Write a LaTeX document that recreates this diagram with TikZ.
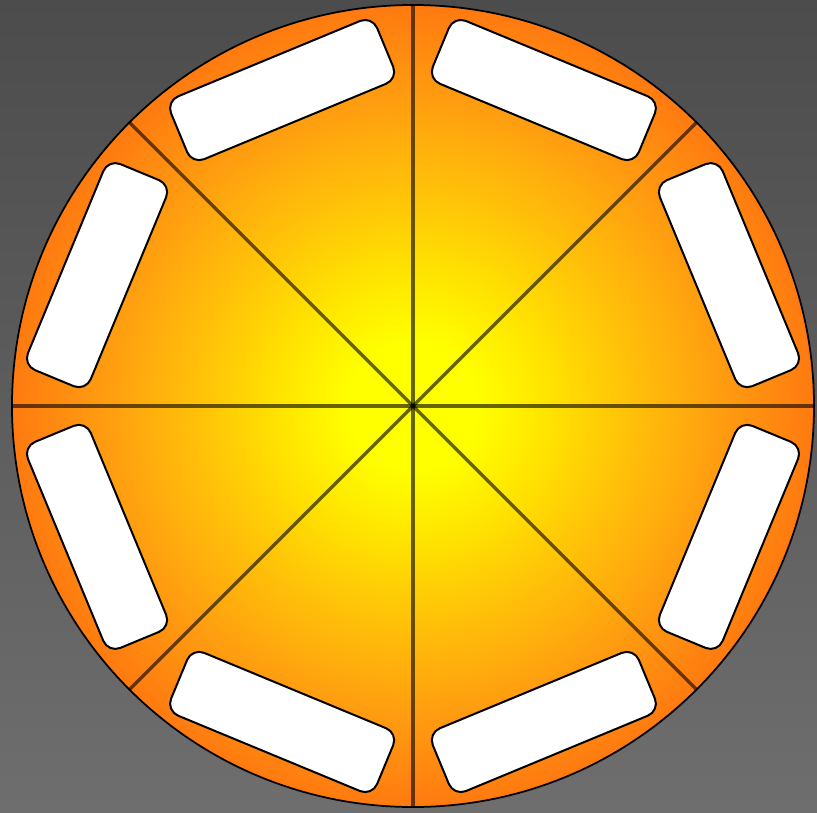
\documentclass[tikz,border=0pt]{standalone}
\usetikzlibrary{positioning}
\definecolor{fondoA}{RGB}{76,76,76}
\definecolor{fondoB}{RGB}{110,110,110}
\definecolor{amarillo}{RGB}{255,255,0}
\definecolor{amarillo2}{RGB}{255,230,0}
\definecolor{naranja1}{RGB}{255,196,8}
\definecolor{naranja2}{RGB}{255,158,16}
\definecolor{naranja3}{RGB}{255,122,16}
\pgfdeclareradialshading{sol}{\pgfpointorigin}{%
  color(0bp)=(amarillo); color(4bp)=(amarillo); color(8bp)=(amarillo2);
  color(13bp)=(naranja1); color(19bp)=(naranja2); color(25bp)=(naranja3);
  color(50bp)=(naranja3)}
\begin{document}
\begin{tikzpicture}[
    x=0.2mm, y=0.2mm,
    disco/.style={circle, draw=black, line width=0.35mm, minimum size=160.4mm, inner sep=0pt, shading=sol},
    ranura/.style={draw=black, line width=0.4mm, fill=white, rounded corners=2.6mm, minimum width=44.6mm, minimum height=13.6mm, inner sep=0pt},
    rayo/.style={draw=black, draw opacity=0.6, line width=0.65mm}
]
\shade[top color=fondoA, bottom color=fondoB] (-413,-406) rectangle (404,406);
\useasboundingbox (-413,-406) rectangle (404,406);

\node[disco] (d) at (0,0) {};
\coordinate (c) at (0,0);

\node[ranura, rotate=-67.5] (r1) at (22.5:342) {};
\node[ranura, rotate=-22.5] (r2) at (67.5:342) {};
\node[ranura, rotate=22.5] (r3) at (112.5:342) {};
\node[ranura, rotate=67.5] (r4) at (157.5:342) {};
\node[ranura, rotate=112.5] (r5) at (202.5:342) {};
\node[ranura, rotate=157.5] (r6) at (247.5:342) {};
\node[ranura, rotate=202.5] (r7) at (292.5:342) {};
\node[ranura, rotate=247.5] (r8) at (337.5:342) {};

\draw[rayo] (c) -- (d.0);
\draw[rayo] (c) -- (d.45);
\draw[rayo] (c) -- (d.90);
\draw[rayo] (c) -- (d.135);
\draw[rayo] (c) -- (d.180);
\draw[rayo] (c) -- (d.225);
\draw[rayo] (c) -- (d.270);
\draw[rayo] (c) -- (d.315);
\end{tikzpicture}
\end{document}
